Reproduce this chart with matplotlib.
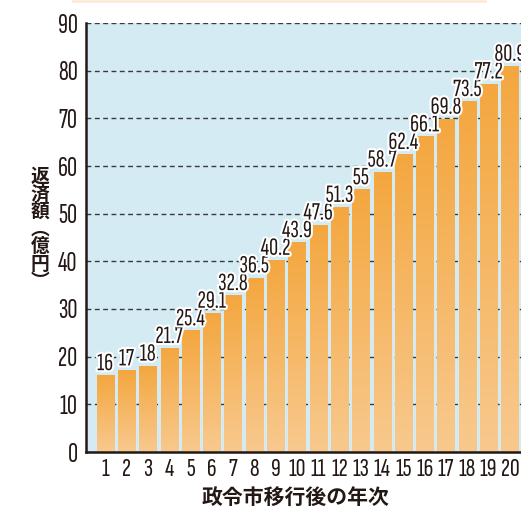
import matplotlib
matplotlib.use("Agg")
import matplotlib.pyplot as plt
import matplotlib.patheffects as pe
import numpy as np
from matplotlib.colors import LinearSegmentedColormap

plt.rcParams["font.family"] = ["Noto Sans CJK JP", "DejaVu Sans"]

years = list(range(1, 21))
values = [16, 17, 18, 21.7, 25.4, 29.1, 32.8, 36.5, 40.2, 43.9,
          47.6, 51.3, 55, 58.7, 62.4, 66.1, 69.8, 73.5, 77.2, 80.9]
value_labels = ["16", "17", "18", "21.7", "25.4", "29.1", "32.8", "36.5", "40.2", "43.9",
                "47.6", "51.3", "55", "58.7", "62.4", "66.1", "69.8", "73.5", "77.2", "80.9"]
y_ticks = [0, 10, 20, 30, 40, 50, 60, 70, 80, 90]

num_font = ["Sofia Sans Extra Condensed", "Fira Sans Extra Condensed", "Roboto Condensed", "DejaVu Sans"]
ink = "#231815"

fig = plt.figure(figsize=(5.21, 5.11), dpi=100)
ax = fig.add_axes([86 / 521, 1 - 452 / 511, 1 - 86 / 521, (452 - 23) / 511])
ax.set_facecolor("#d4ebf3")

cmap = LinearSegmentedColormap.from_list("bar", ["#f8c98e", "#f4a73f"])
grad = np.linspace(0, 1, 256).reshape(-1, 1)
width = 0.8
for x, v, lab in zip(years, values, value_labels):
    ax.imshow(grad, cmap=cmap, origin="lower", aspect="auto",
              extent=[x - width / 2, x + width / 2, 0, v], zorder=3)
    ax.annotate(lab, (x, v), xytext=(0, 4), textcoords="offset points",
                ha="center", va="baseline", fontsize=18, family=num_font,
                color=ink, zorder=5, annotation_clip=False,
                path_effects=[pe.withStroke(linewidth=3, foreground="white")])

ax.set_xlim(0.1, 20.52)
ax.set_ylim(0, 90)
ax.set_yticks(y_ticks)
ax.set_xticks(years)
ax.set_yticklabels([str(t) for t in y_ticks], family=num_font, fontsize=20, color=ink)
ax.set_xticklabels([str(t) for t in years], family=num_font, fontsize=19.5, color=ink)
ax.tick_params(length=0)
ax.tick_params(axis="y", pad=6)
ax.tick_params(axis="x", pad=4)
ax.grid(axis="y", linestyle=(0, (3.5, 2.5)), color="#3a3a3a", linewidth=1.0, zorder=1)
ax.set_axisbelow(True)
for s in ["top", "right"]:
    ax.spines[s].set_visible(False)
for s in ["left", "bottom"]:
    ax.spines[s].set_linewidth(1.8)
    ax.spines[s].set_color(ink)
    ax.spines[s].set_zorder(6)

fig.text(296 / 521, 1 - 497 / 511, "政令市移行後の年次", ha="center", va="center",
         fontsize=15, fontweight="bold", color=ink)
fig.text(40 / 521, 1 - 229 / 511, "返\n済\n額\n︵\n億\n円\n︶", ha="center", va="center",
         fontsize=13.5, fontweight="bold", color=ink, linespacing=0.9)

fig.add_artist(plt.Line2D([73 / 521, 485 / 521], [1 - 1 / 511, 1 - 1 / 511],
                          color="#fde9d8", linewidth=2, transform=fig.transFigure))

fig.savefig("out.png", dpi=100)
